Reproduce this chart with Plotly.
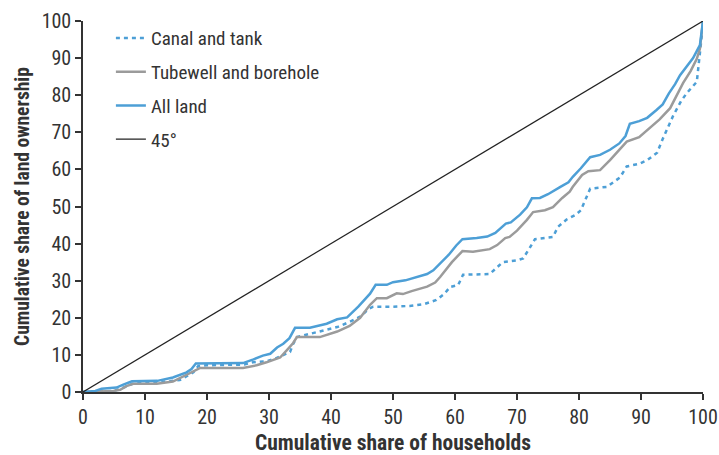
import plotly.graph_objects as go

# Lorenz curves of land ownership by irrigation source
canal_x = [0, 5, 7, 8.5, 12, 14, 15.6, 17, 17.8, 18.6, 20, 26, 27.4, 29.6, 31, 33.4, 33.9, 34.5,
           37, 39.3, 41, 43, 44.7, 46, 46.8, 50, 52.7, 55, 57, 58.3, 59.2, 60.5, 61.3, 65.6,
           66.8, 67.7, 70, 71, 72.1, 72.9, 75.8, 76.6, 78, 79.5, 80.3, 81.8, 84.5, 86.6, 87.7,
           89.7, 91, 92.6, 93.5, 95.2, 96.5, 97.4, 99, 99.4, 99.8, 100]
canal_y = [0, 0.3, 1.5, 2.6, 2.6, 2.9, 3.2, 4.5, 5.3, 7, 7.2, 7.4, 8, 8.3, 9, 10.8, 13, 14.8,
           15.8, 16.7, 17.5, 18.9, 20.3, 22.3, 23, 23, 23.2, 23.7, 24.8, 26.5, 28.3, 28.8, 31.6, 31.8,
           33.5, 35, 35.5, 36, 39, 41.2, 41.8, 44.5, 46.5, 47.8, 49, 54.8, 55.3, 57.8, 60.8,
           61.5, 62.5, 64.5, 68.2, 74.5, 78.5, 80.6, 83.6, 89, 96, 100]

tube_x = [0, 4.9, 6, 7, 8.1, 11.9, 14.5, 16, 17.3, 18.9, 25.8, 28, 29.6, 31.8, 33, 33.9, 34.5,
          38.2, 41, 43, 44.7, 46.3, 47.4, 49, 50.6, 51.6, 53, 55.5, 56.8, 57.6, 59.5, 61.2, 62.9,
          65.6, 66.8, 68.1, 68.8, 70, 71.6, 72.6, 74.5, 75.8, 77.3, 78.5, 79, 80.5, 81.5, 83.4,
          85, 86.6, 87.7, 89.7, 91.5, 93, 94.7, 95.8, 96.8, 98, 99, 99.5, 100]
tube_y = [0, 0.3, 0.6, 1.6, 2.2, 2.2, 2.8, 4, 5.2, 6.5, 6.5, 7.2, 8, 9.3, 11.5, 13.2, 14.8,
          14.8, 16.3, 17.8, 20, 23.5, 25.3, 25.3, 26.6, 26.4, 27.2, 28.4, 29.5, 31, 35, 38, 37.8,
          38.5, 39.6, 41.5, 41.8, 43.5, 46.4, 48.5, 49, 49.8, 52.3, 54, 55.3, 58.5, 59.5, 59.8,
          62.5, 65.5, 67.5, 68.7, 71.2, 73.5, 76.5, 80, 83.3, 86.5, 89.8, 92.5, 100]

all_x = [0, 2, 3, 5.4, 6.5, 7.9, 12, 14.5, 16.7, 17.5, 18.2, 20, 25.8, 27.5, 29, 30.2, 31.3,
         32.3, 33.3, 34.2, 36.6, 39.3, 41, 42.6, 44.4, 46.3, 47.2, 49, 50, 52, 54.4, 55.5, 56.5,
         57.6, 59, 60.2, 61.2, 63.5, 65.2, 66.5, 68.2, 69, 70.5, 71.6, 72.4, 73.7, 75, 77, 78.3,
         79, 80.3, 81.8, 83.4, 85, 86.5, 87.5, 88.2, 89.7, 91, 92.5, 93.5, 94.5, 95.5, 96.3,
         97.5, 98.4, 99.5, 100]
all_y = [0, 0.3, 0.9, 1.2, 2, 2.9, 3, 3.9, 5.3, 6.2, 7.7, 7.7, 7.8, 8.8, 9.8, 10.3, 12,
         13, 14.5, 17.3, 17.3, 18.4, 19.6, 20.1, 23, 26.5, 28.9, 28.9, 29.6, 30.1, 31.2, 31.8, 32.8,
         34.6, 37, 39.5, 41.2, 41.5, 41.9, 42.9, 45.4, 45.7, 47.8, 49.8, 52.2, 52.3, 53.3, 55.3, 56.5,
         58, 60.3, 63.3, 63.9, 65.3, 67, 69, 72.3, 73, 73.9, 76, 77.5, 80.5, 83, 85.4,
         88, 90, 93.5, 100]

equality = [0, 100]
ticks = [0, 10, 20, 30, 40, 50, 60, 70, 80, 90, 100]

BLUE = "#4d9fd6"
GRAY = "#9b9b9b"
INK = "#333333"
FONT = "Roboto Condensed, Roboto, sans-serif"

fig = go.Figure()
fig.add_trace(go.Scatter(x=canal_x, y=canal_y, mode="lines", name="Canal and tank",
                         legendgroup="a",
                         line=dict(color=BLUE, width=2.5, dash="4px,4px")))
fig.add_trace(go.Scatter(x=tube_x, y=tube_y, mode="lines", name="Tubewell and borehole",
                         legendgroup="b",
                         line=dict(color=GRAY, width=2.5)))
fig.add_trace(go.Scatter(x=all_x, y=all_y, mode="lines", name="All land",
                         legendgroup="c",
                         line=dict(color=BLUE, width=2.5)))
fig.add_trace(go.Scatter(x=equality, y=equality, mode="lines", name="45°",
                         legendgroup="d",
                         line=dict(color="#222222", width=1.2)))

axis_common = dict(
    range=[0, 100], tickvals=ticks, showgrid=False, zeroline=False,
    showline=True, linecolor=INK, linewidth=1.5, automargin=False,
    ticks="outside", ticklen=6, tickwidth=1.5, tickcolor=INK,
    tickfont=dict(family=FONT, size=20, color=INK),
)

fig.update_layout(
    width=719, height=455,
    margin=dict(l=83, r=16, t=21, b=63),
    plot_bgcolor="white", paper_bgcolor="white",
    font=dict(family=FONT, color=INK),
    xaxis=dict(**axis_common),
    yaxis=dict(**axis_common,
               title=dict(text="<b>Cumulative share of land ownership</b>",
                          font=dict(family=FONT, size=19.5, color=INK), standoff=7)),
    legend=dict(x=0.045, y=1.005, xanchor="left", yanchor="top",
                font=dict(family=FONT, size=19, color=INK),
                bgcolor="rgba(0,0,0,0)", tracegroupgap=6),
    showlegend=True,
    annotations=[dict(text="<b>Cumulative share of households</b>",
                      xref="paper", yref="paper", x=0.5, y=-0.137,
                      xanchor="center", yanchor="middle", showarrow=False,
                      font=dict(family=FONT, size=21.5, color=INK))],
)

fig.write_html("out.html")
